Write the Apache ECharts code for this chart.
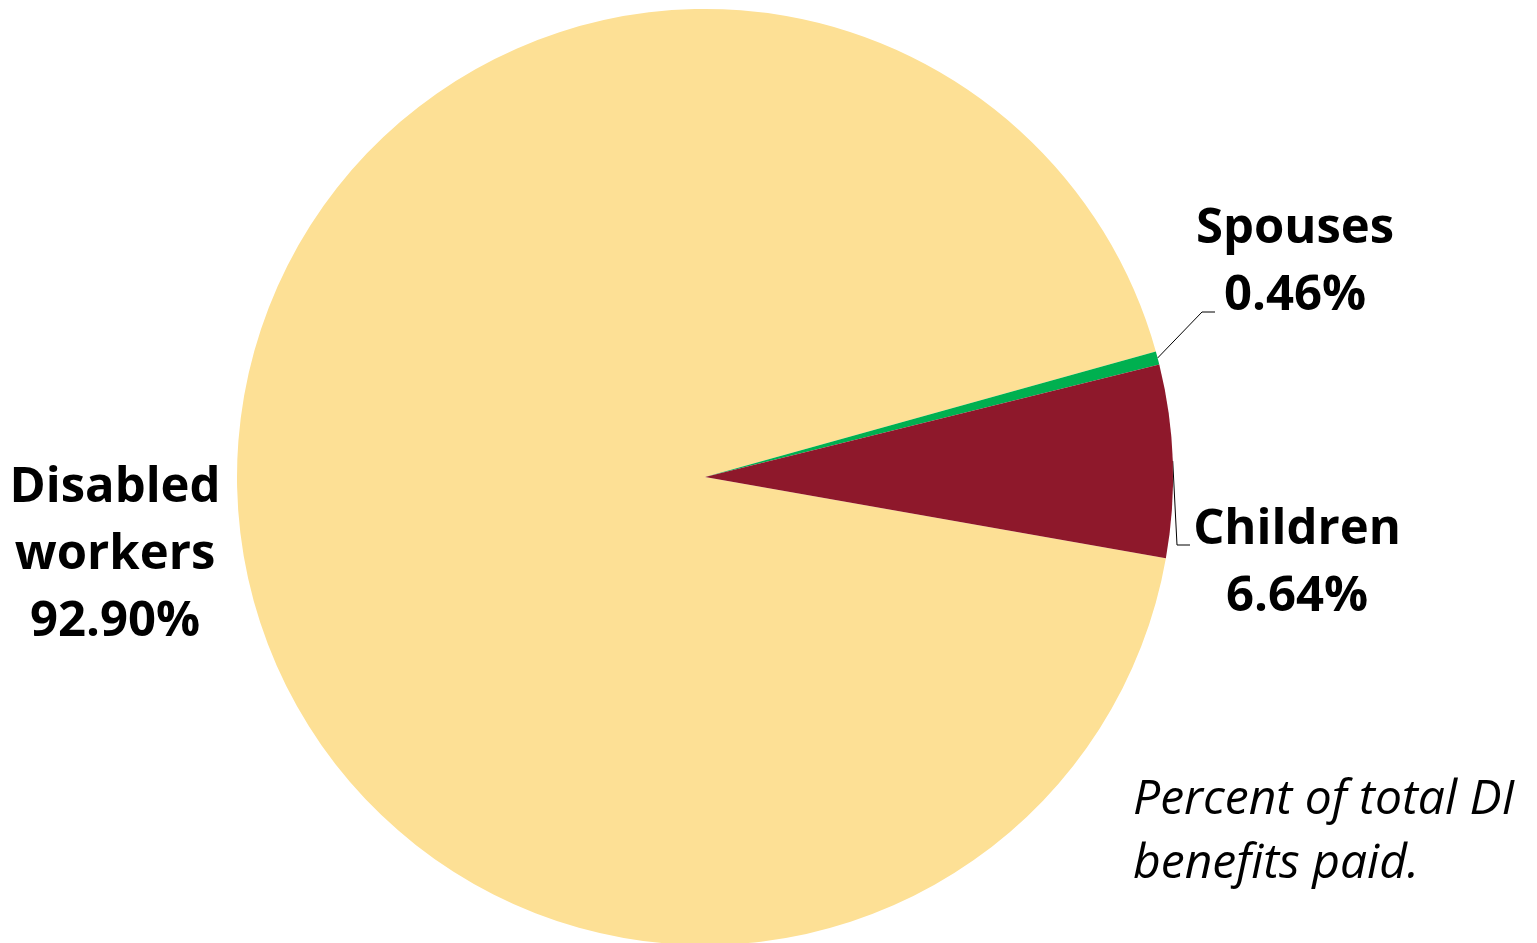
<!DOCTYPE html>
<html>
<head>
<meta charset="utf-8">
<script src="https://cdn.jsdelivr.net/npm/echarts@6/dist/echarts.min.js"></script>
<style>html,body{margin:0;padding:0;background:#fff}#c{width:1537px;height:943px}</style>
</head>
<body>
<div id="c"></div>
<script>
const categories = ['Disabled workers', 'Spouses', 'Children'];
const values = [92.90, 0.46, 6.64];
const colors = ['#FDE095', '#00B050', '#8E182B'];
const noteLines = ['Percent of total DI', 'benefits paid.'];

const CX = 705, CY = 477, R = 468, START = -10;
const total = values.reduce((a, b) => a + b, 0);
function midAngle(i) {
  let acc = 0;
  for (let k = 0; k < i; k++) acc += values[k];
  const a = START - (acc + values[i] / 2) / total * 360;
  return a * Math.PI / 180;
}
function edgePoint(i) {
  const a = midAngle(i);
  return [CX + R * Math.cos(a), CY - R * Math.sin(a)];
}

const chart = echarts.init(document.getElementById('c'));
const font = '"Open Sans", "Noto Sans", sans-serif';
chart.setOption({
  animation: false,
  series: [{
    type: 'pie',
    center: [CX, CY],
    radius: R,
    startAngle: START,
    clockwise: true,
    avoidLabelOverlap: false,
    data: categories.map((c, i) => ({ name: c, value: values[i], itemStyle: { color: colors[i] } })),
    itemStyle: { borderWidth: 0 },
    label: {
      show: true,
      position: 'outside',
      formatter: p => p.name.split(' ').join('\n') + '\n' + p.value.toFixed(2) + '%',
      fontFamily: font,
      fontWeight: 'bold',
      fontSize: 49,
      lineHeight: 67,
      color: '#000',
      align: 'center'
    },
    labelLine: { show: true, lineStyle: { color: '#000', width: 1 }, length: 20, length2: 10 },
    labelLayout: function (p) {
      const i = p.dataIndex;
      if (i === 0) {
        return { x: 115, y: 555, align: 'center', verticalAlign: 'middle', labelLinePoints: [[0,0],[0,0],[0,0]] };
      }
      const e = edgePoint(i);
      if (i === 1) {
        return { x: 1295, y: 263, align: 'center', verticalAlign: 'middle',
          labelLinePoints: [e, [1202, 312], [1215, 312]] };
      }
      return { x: 1297, y: 564, align: 'center', verticalAlign: 'middle',
        labelLinePoints: [e, [1177, 545], [1190, 545]] };
    }
  }],
  graphic: [{
    type: 'text',
    left: 1133,
    top: 768,
    style: {
      text: noteLines.join('\n'),
      font: 'italic 48px ' + font,
      lineHeight: 64,
      fill: '#000'
    }
  }]
});
</script>
</body>
</html>
